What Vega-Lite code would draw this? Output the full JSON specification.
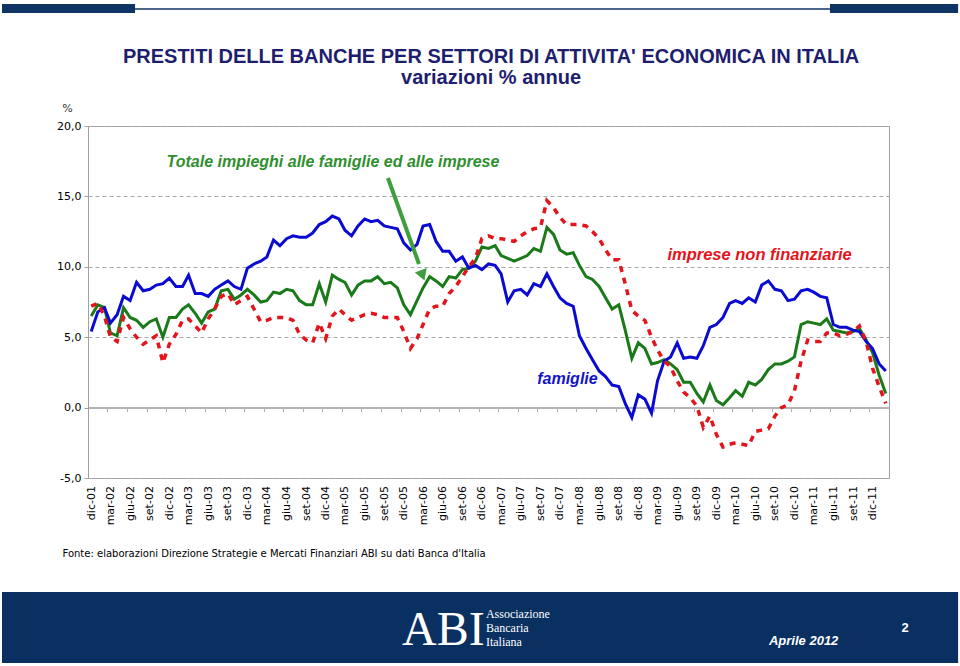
{
  "$schema": "https://vega.github.io/schema/vega-lite/v6.json",
  "width": 801,
  "height": 352,
  "autosize": {"type": "none"},
  "padding": {"left": 88, "top": 126, "right": 71, "bottom": 188},
  "background": "#ffffff",
  "config": {
    "view": {"stroke": "#a0a0a0", "strokeWidth": 1},
    "font": "DejaVu Sans"
  },
  "data": {
    "values": [
      {"mese": "2001-12-01", "totale": 6.5, "famiglie": 5.4, "imprese": 7.2},
      {"mese": "2002-01-01", "totale": 7.3, "famiglie": 6.8, "imprese": 7.4},
      {"mese": "2002-02-01", "totale": 7.1, "famiglie": 7.1, "imprese": 6.5},
      {"mese": "2002-03-01", "totale": 5.3, "famiglie": 6.0, "imprese": 5.0},
      {"mese": "2002-04-01", "totale": 5.1, "famiglie": 6.6, "imprese": 4.7},
      {"mese": "2002-05-01", "totale": 7.1, "famiglie": 7.9, "imprese": 6.4},
      {"mese": "2002-06-01", "totale": 6.4, "famiglie": 7.6, "imprese": 5.6},
      {"mese": "2002-07-01", "totale": 6.2, "famiglie": 8.9, "imprese": 5.0},
      {"mese": "2002-08-01", "totale": 5.7, "famiglie": 8.3, "imprese": 4.5},
      {"mese": "2002-09-01", "totale": 6.1, "famiglie": 8.4, "imprese": 4.8},
      {"mese": "2002-10-01", "totale": 6.3, "famiglie": 8.7, "imprese": 5.1},
      {"mese": "2002-11-01", "totale": 5.0, "famiglie": 8.8, "imprese": 3.2},
      {"mese": "2002-12-01", "totale": 6.4, "famiglie": 9.2, "imprese": 4.5},
      {"mese": "2003-01-01", "totale": 6.4, "famiglie": 8.6, "imprese": 5.2},
      {"mese": "2003-02-01", "totale": 7.0, "famiglie": 8.6, "imprese": 6.2},
      {"mese": "2003-03-01", "totale": 7.3, "famiglie": 9.4, "imprese": 6.3},
      {"mese": "2003-04-01", "totale": 6.7, "famiglie": 8.1, "imprese": 5.8},
      {"mese": "2003-05-01", "totale": 6.0, "famiglie": 8.1, "imprese": 5.3},
      {"mese": "2003-06-01", "totale": 6.8, "famiglie": 7.9, "imprese": 6.3},
      {"mese": "2003-07-01", "totale": 7.0, "famiglie": 8.4, "imprese": 7.0},
      {"mese": "2003-08-01", "totale": 8.3, "famiglie": 8.7, "imprese": 7.9},
      {"mese": "2003-09-01", "totale": 8.4, "famiglie": 9.0, "imprese": 8.1},
      {"mese": "2003-10-01", "totale": 7.7, "famiglie": 8.6, "imprese": 7.3},
      {"mese": "2003-11-01", "totale": 8.0, "famiglie": 8.4, "imprese": 7.6},
      {"mese": "2003-12-01", "totale": 8.4, "famiglie": 9.9, "imprese": 7.9},
      {"mese": "2004-01-01", "totale": 8.0, "famiglie": 10.2, "imprese": 7.0},
      {"mese": "2004-02-01", "totale": 7.5, "famiglie": 10.4, "imprese": 6.1},
      {"mese": "2004-03-01", "totale": 7.6, "famiglie": 10.7, "imprese": 6.2},
      {"mese": "2004-04-01", "totale": 8.2, "famiglie": 11.9, "imprese": 6.4},
      {"mese": "2004-05-01", "totale": 8.1, "famiglie": 11.5, "imprese": 6.4},
      {"mese": "2004-06-01", "totale": 8.4, "famiglie": 12.0, "imprese": 6.4},
      {"mese": "2004-07-01", "totale": 8.3, "famiglie": 12.2, "imprese": 6.2},
      {"mese": "2004-08-01", "totale": 7.6, "famiglie": 12.1, "imprese": 5.2},
      {"mese": "2004-09-01", "totale": 7.3, "famiglie": 12.1, "imprese": 4.8},
      {"mese": "2004-10-01", "totale": 7.3, "famiglie": 12.4, "imprese": 4.6},
      {"mese": "2004-11-01", "totale": 8.8, "famiglie": 13.0, "imprese": 6.0},
      {"mese": "2004-12-01", "totale": 7.5, "famiglie": 13.2, "imprese": 4.9},
      {"mese": "2005-01-01", "totale": 9.4, "famiglie": 13.6, "imprese": 6.5},
      {"mese": "2005-02-01", "totale": 9.1, "famiglie": 13.4, "imprese": 7.0},
      {"mese": "2005-03-01", "totale": 8.9, "famiglie": 12.6, "imprese": 6.6},
      {"mese": "2005-04-01", "totale": 8.0, "famiglie": 12.2, "imprese": 6.2},
      {"mese": "2005-05-01", "totale": 8.7, "famiglie": 12.9, "imprese": 6.4},
      {"mese": "2005-06-01", "totale": 9.0, "famiglie": 13.4, "imprese": 6.6},
      {"mese": "2005-07-01", "totale": 9.0, "famiglie": 13.2, "imprese": 6.7},
      {"mese": "2005-08-01", "totale": 9.3, "famiglie": 13.3, "imprese": 6.6},
      {"mese": "2005-09-01", "totale": 8.8, "famiglie": 12.9, "imprese": 6.4},
      {"mese": "2005-10-01", "totale": 8.9, "famiglie": 12.8, "imprese": 6.4},
      {"mese": "2005-11-01", "totale": 8.5, "famiglie": 12.7, "imprese": 6.4},
      {"mese": "2005-12-01", "totale": 7.3, "famiglie": 11.7, "imprese": 5.4},
      {"mese": "2006-01-01", "totale": 6.6, "famiglie": 11.2, "imprese": 4.2},
      {"mese": "2006-02-01", "totale": 7.6, "famiglie": 11.6, "imprese": 4.9},
      {"mese": "2006-03-01", "totale": 8.5, "famiglie": 12.9, "imprese": 5.9},
      {"mese": "2006-04-01", "totale": 9.3, "famiglie": 13.0, "imprese": 7.0},
      {"mese": "2006-05-01", "totale": 9.0, "famiglie": 11.8, "imprese": 7.2},
      {"mese": "2006-06-01", "totale": 8.6, "famiglie": 11.1, "imprese": 7.2},
      {"mese": "2006-07-01", "totale": 9.3, "famiglie": 11.1, "imprese": 8.1},
      {"mese": "2006-08-01", "totale": 9.2, "famiglie": 10.4, "imprese": 8.6},
      {"mese": "2006-09-01", "totale": 9.8, "famiglie": 10.7, "imprese": 9.3},
      {"mese": "2006-10-01", "totale": 9.9, "famiglie": 9.9, "imprese": 10.0},
      {"mese": "2006-11-01", "totale": 10.4, "famiglie": 10.1, "imprese": 10.6},
      {"mese": "2006-12-01", "totale": 11.4, "famiglie": 9.8, "imprese": 12.0},
      {"mese": "2007-01-01", "totale": 11.3, "famiglie": 10.2, "imprese": 12.2},
      {"mese": "2007-02-01", "totale": 11.5, "famiglie": 10.1, "imprese": 12.0},
      {"mese": "2007-03-01", "totale": 10.8, "famiglie": 9.5, "imprese": 12.0},
      {"mese": "2007-04-01", "totale": 10.6, "famiglie": 7.5, "imprese": 11.9},
      {"mese": "2007-05-01", "totale": 10.4, "famiglie": 8.3, "imprese": 11.8},
      {"mese": "2007-06-01", "totale": 10.6, "famiglie": 8.4, "imprese": 12.2},
      {"mese": "2007-07-01", "totale": 10.8, "famiglie": 8.0, "imprese": 12.5},
      {"mese": "2007-08-01", "totale": 11.3, "famiglie": 8.8, "imprese": 12.7},
      {"mese": "2007-09-01", "totale": 11.1, "famiglie": 8.6, "imprese": 12.8},
      {"mese": "2007-10-01", "totale": 12.8, "famiglie": 9.5, "imprese": 14.7},
      {"mese": "2007-11-01", "totale": 12.3, "famiglie": 8.6, "imprese": 14.2},
      {"mese": "2007-12-01", "totale": 11.2, "famiglie": 7.8, "imprese": 13.5},
      {"mese": "2008-01-01", "totale": 10.9, "famiglie": 7.4, "imprese": 13.0},
      {"mese": "2008-02-01", "totale": 11.0, "famiglie": 7.2, "imprese": 13.0},
      {"mese": "2008-03-01", "totale": 10.1, "famiglie": 5.1, "imprese": 13.0},
      {"mese": "2008-04-01", "totale": 9.3, "famiglie": 4.2, "imprese": 12.9},
      {"mese": "2008-05-01", "totale": 9.1, "famiglie": 3.4, "imprese": 12.5},
      {"mese": "2008-06-01", "totale": 8.6, "famiglie": 2.6, "imprese": 12.0},
      {"mese": "2008-07-01", "totale": 7.8, "famiglie": 2.2, "imprese": 11.2},
      {"mese": "2008-08-01", "totale": 7.0, "famiglie": 1.6, "imprese": 10.5},
      {"mese": "2008-09-01", "totale": 7.3, "famiglie": 1.5, "imprese": 10.5},
      {"mese": "2008-10-01", "totale": 5.5, "famiglie": 0.3, "imprese": 8.8},
      {"mese": "2008-11-01", "totale": 3.5, "famiglie": -0.7, "imprese": 6.9},
      {"mese": "2008-12-01", "totale": 4.6, "famiglie": 0.9, "imprese": 6.5},
      {"mese": "2009-01-01", "totale": 4.2, "famiglie": 0.6, "imprese": 6.2},
      {"mese": "2009-02-01", "totale": 3.1, "famiglie": -0.4, "imprese": 5.0},
      {"mese": "2009-03-01", "totale": 3.2, "famiglie": 1.9, "imprese": 4.1},
      {"mese": "2009-04-01", "totale": 3.4, "famiglie": 3.3, "imprese": 3.3},
      {"mese": "2009-05-01", "totale": 3.1, "famiglie": 3.6, "imprese": 2.9},
      {"mese": "2009-06-01", "totale": 2.7, "famiglie": 4.6, "imprese": 1.9},
      {"mese": "2009-07-01", "totale": 1.8, "famiglie": 3.5, "imprese": 1.1},
      {"mese": "2009-08-01", "totale": 1.8, "famiglie": 3.6, "imprese": 0.7},
      {"mese": "2009-09-01", "totale": 1.0, "famiglie": 3.5, "imprese": 0.1},
      {"mese": "2009-10-01", "totale": 0.4, "famiglie": 4.4, "imprese": -1.4},
      {"mese": "2009-11-01", "totale": 1.6, "famiglie": 5.7, "imprese": -0.6},
      {"mese": "2009-12-01", "totale": 0.5, "famiglie": 5.9, "imprese": -1.9},
      {"mese": "2010-01-01", "totale": 0.2, "famiglie": 6.4, "imprese": -2.8},
      {"mese": "2010-02-01", "totale": 0.7, "famiglie": 7.4, "imprese": -2.6},
      {"mese": "2010-03-01", "totale": 1.2, "famiglie": 7.6, "imprese": -2.5},
      {"mese": "2010-04-01", "totale": 0.8, "famiglie": 7.4, "imprese": -2.6},
      {"mese": "2010-05-01", "totale": 1.8, "famiglie": 7.8, "imprese": -2.7},
      {"mese": "2010-06-01", "totale": 1.6, "famiglie": 7.5, "imprese": -1.7},
      {"mese": "2010-07-01", "totale": 2.0, "famiglie": 8.7, "imprese": -1.6},
      {"mese": "2010-08-01", "totale": 2.7, "famiglie": 9.0, "imprese": -1.5},
      {"mese": "2010-09-01", "totale": 3.1, "famiglie": 8.4, "imprese": -0.6},
      {"mese": "2010-10-01", "totale": 3.1, "famiglie": 8.3, "imprese": 0.0},
      {"mese": "2010-11-01", "totale": 3.3, "famiglie": 7.6, "imprese": 0.2},
      {"mese": "2010-12-01", "totale": 3.6, "famiglie": 7.7, "imprese": 1.2},
      {"mese": "2011-01-01", "totale": 5.9, "famiglie": 8.3, "imprese": 3.3},
      {"mese": "2011-02-01", "totale": 6.1, "famiglie": 8.4, "imprese": 4.8},
      {"mese": "2011-03-01", "totale": 6.0, "famiglie": 8.2, "imprese": 4.7},
      {"mese": "2011-04-01", "totale": 5.9, "famiglie": 7.9, "imprese": 4.7},
      {"mese": "2011-05-01", "totale": 6.3, "famiglie": 7.8, "imprese": 5.3},
      {"mese": "2011-06-01", "totale": 5.5, "famiglie": 5.9, "imprese": 5.3},
      {"mese": "2011-07-01", "totale": 5.4, "famiglie": 5.7, "imprese": 5.1},
      {"mese": "2011-08-01", "totale": 5.3, "famiglie": 5.7, "imprese": 5.2},
      {"mese": "2011-09-01", "totale": 5.4, "famiglie": 5.5, "imprese": 5.4},
      {"mese": "2011-10-01", "totale": 5.6, "famiglie": 5.4, "imprese": 5.8},
      {"mese": "2011-11-01", "totale": 4.8, "famiglie": 4.7, "imprese": 4.7},
      {"mese": "2011-12-01", "totale": 3.9, "famiglie": 4.2, "imprese": 2.8},
      {"mese": "2012-01-01", "totale": 2.3, "famiglie": 3.1, "imprese": 1.5},
      {"mese": "2012-02-01", "totale": 1.0, "famiglie": 2.6, "imprese": 0.3}
    ]
  },
  "layer": [
    {
      "mark": {"type": "line", "color": "#1a7a1a", "strokeWidth": 3},
      "encoding": {
        "x": {
          "field": "mese",
          "type": "temporal",
          "scale": {
            "type": "utc",
            "domain": [
              {"year": 2001, "month": 11, "date": 16, "utc": true},
              {"year": 2012, "month": 2, "date": 16, "utc": true}
            ],
            "nice": false
          },
          "axis": {
            "orient": "bottom",
            "offset": -70.4,
            "tickCount": 60,
            "values": [
              {"year": 2001, "month": 12, "date": 1, "utc": true},
              {"year": 2002, "month": 3, "date": 1, "utc": true},
              {"year": 2002, "month": 6, "date": 1, "utc": true},
              {"year": 2002, "month": 9, "date": 1, "utc": true},
              {"year": 2002, "month": 12, "date": 1, "utc": true},
              {"year": 2003, "month": 3, "date": 1, "utc": true},
              {"year": 2003, "month": 6, "date": 1, "utc": true},
              {"year": 2003, "month": 9, "date": 1, "utc": true},
              {"year": 2003, "month": 12, "date": 1, "utc": true},
              {"year": 2004, "month": 3, "date": 1, "utc": true},
              {"year": 2004, "month": 6, "date": 1, "utc": true},
              {"year": 2004, "month": 9, "date": 1, "utc": true},
              {"year": 2004, "month": 12, "date": 1, "utc": true},
              {"year": 2005, "month": 3, "date": 1, "utc": true},
              {"year": 2005, "month": 6, "date": 1, "utc": true},
              {"year": 2005, "month": 9, "date": 1, "utc": true},
              {"year": 2005, "month": 12, "date": 1, "utc": true},
              {"year": 2006, "month": 3, "date": 1, "utc": true},
              {"year": 2006, "month": 6, "date": 1, "utc": true},
              {"year": 2006, "month": 9, "date": 1, "utc": true},
              {"year": 2006, "month": 12, "date": 1, "utc": true},
              {"year": 2007, "month": 3, "date": 1, "utc": true},
              {"year": 2007, "month": 6, "date": 1, "utc": true},
              {"year": 2007, "month": 9, "date": 1, "utc": true},
              {"year": 2007, "month": 12, "date": 1, "utc": true},
              {"year": 2008, "month": 3, "date": 1, "utc": true},
              {"year": 2008, "month": 6, "date": 1, "utc": true},
              {"year": 2008, "month": 9, "date": 1, "utc": true},
              {"year": 2008, "month": 12, "date": 1, "utc": true},
              {"year": 2009, "month": 3, "date": 1, "utc": true},
              {"year": 2009, "month": 6, "date": 1, "utc": true},
              {"year": 2009, "month": 9, "date": 1, "utc": true},
              {"year": 2009, "month": 12, "date": 1, "utc": true},
              {"year": 2010, "month": 3, "date": 1, "utc": true},
              {"year": 2010, "month": 6, "date": 1, "utc": true},
              {"year": 2010, "month": 9, "date": 1, "utc": true},
              {"year": 2010, "month": 12, "date": 1, "utc": true},
              {"year": 2011, "month": 3, "date": 1, "utc": true},
              {"year": 2011, "month": 6, "date": 1, "utc": true},
              {"year": 2011, "month": 9, "date": 1, "utc": true},
              {"year": 2011, "month": 12, "date": 1, "utc": true}
            ],
            "labelExpr": "['gen','feb','mar','apr','mag','giu','lug','ago','set','ott','nov','dic'][utcmonth(datum.value)] + '-' + utcFormat(datum.value, '%y')",
            "labelAngle": -90,
            "labelAlign": "right",
            "labelBaseline": "middle",
            "labelFont": "DejaVu Sans",
            "labelFontSize": 11,
            "labelColor": "#000000",
            "labelPadding": 74,
            "labelOverlap": false,
            "labelFlush": false,
            "labelBound": false,
            "tickOffset": -3.26,
            "labelOffset": 3.26,
            "ticks": true,
            "tickSize": 4,
            "tickColor": "#b0b0b0",
            "tickWidth": 1,
            "domain": true,
            "domainColor": "#b4b4b4",
            "domainWidth": 2,
            "grid": false,
            "title": "Fonte: elaborazioni Direzione Strategie e Mercati Finanziari ABI su dati Banca d'Italia",
            "titleX": -26,
            "titleY": 149,
            "titleAngle": 0,
            "titleAlign": "left",
            "titleBaseline": "alphabetic",
            "titleFont": "DejaVu Sans",
            "titleFontWeight": "normal",
            "titleFontSize": 10,
            "titleColor": "#000000"
          }
        },
        "y": {
          "field": "totale",
          "type": "quantitative",
          "scale": {"domain": [-5, 20], "nice": false, "zero": false},
          "axis": {
            "values": [-5, 0, 5, 10, 15, 20],
            "labelExpr": "replace(replace(format(datum.value, '.1f'), '.', ','), '−', '-')",
            "grid": true,
            "gridColor": "#a8a8a8",
            "gridDash": [4, 3],
            "gridWidth": 1,
            "domainColor": "#a0a0a0",
            "tickColor": "#a0a0a0",
            "tickSize": 4,
            "labelPadding": 3,
            "labelFont": "DejaVu Sans",
            "labelFontSize": 11,
            "labelColor": "#000000",
            "title": "%",
            "titleAngle": 0,
            "titleX": -21,
            "titleY": -18,
            "titleAlign": "center",
            "titleBaseline": "middle",
            "titleFont": "DejaVu Sans",
            "titleFontWeight": "normal",
            "titleFontSize": 11,
            "titleColor": "#333333"
          }
        }
      }
    },
    {
      "mark": {"type": "line", "color": "#0a0ad2", "strokeWidth": 3},
      "encoding": {
        "x": {"field": "mese", "type": "temporal"},
        "y": {"field": "famiglie", "type": "quantitative"}
      }
    },
    {
      "mark": {"type": "line", "color": "#e3141b", "strokeWidth": 3.5, "strokeDash": [6, 6]},
      "encoding": {
        "x": {"field": "mese", "type": "temporal"},
        "y": {"field": "imprese", "type": "quantitative"}
      }
    },
    {
      "data": {"values": [{}]},
      "mark": {"type": "text", "text": ["PRESTITI DELLE BANCHE PER SETTORI DI ATTIVITA' ECONOMICA IN ITALIA", "variazioni % annue"], "font": "Liberation Sans", "fontSize": 20, "fontWeight": "bold", "lineHeight": 21, "color": "#1e1e6e", "align": "center", "baseline": "alphabetic"},
      "encoding": {
        "x": {"datum": {"year": 2007, "month": 1, "date": 13, "utc": true}, "type": "temporal"},
        "y": {"datum": 24.47, "type": "quantitative"}
      }
    },
    {
      "data": {"values": [{}]},
      "mark": {"type": "text", "text": "Totale impieghi alle famiglie ed alle imprese", "font": "Liberation Sans", "fontSize": 16, "fontWeight": "bold", "fontStyle": "italic", "color": "#2f8f2f", "align": "center", "baseline": "middle"},
      "encoding": {
        "x": {"datum": {"year": 2005, "month": 1, "date": 4, "utc": true}, "type": "temporal"},
        "y": {"datum": 17.44, "type": "quantitative"}
      }
    },
    {
      "data": {"values": [{}]},
      "mark": {"type": "text", "text": "imprese non finanziarie", "font": "Liberation Sans", "fontSize": 16.5, "fontWeight": "bold", "fontStyle": "italic", "color": "#e3141b", "align": "center", "baseline": "middle"},
      "encoding": {
        "x": {"datum": {"year": 2010, "month": 6, "date": 21, "utc": true}, "type": "temporal"},
        "y": {"datum": 10.84, "type": "quantitative"}
      }
    },
    {
      "data": {"values": [{}]},
      "mark": {"type": "text", "text": "famiglie", "font": "Liberation Sans", "fontSize": 16, "fontWeight": "bold", "fontStyle": "italic", "color": "#1414c8", "align": "center", "baseline": "middle"},
      "encoding": {
        "x": {"datum": {"year": 2008, "month": 1, "date": 5, "utc": true}, "type": "temporal"},
        "y": {"datum": 2.03, "type": "quantitative"}
      }
    },
    {
      "data": {"values": [{}]},
      "mark": {"type": "rule", "color": "#3f9f3f", "strokeWidth": 4},
      "encoding": {
        "x": {"datum": {"year": 2005, "month": 9, "date": 18, "utc": true}, "type": "temporal"},
        "y": {"datum": 16.31, "type": "quantitative"},
        "x2": {"datum": {"year": 2006, "month": 2, "date": 10, "utc": true}},
        "y2": {"datum": 10.2}
      }
    },
    {
      "data": {"values": [{}]},
      "mark": {"type": "point", "shape": "triangle-down", "filled": true, "color": "#3f9f3f", "opacity": 1, "size": 160, "angle": 340},
      "encoding": {
        "x": {"datum": {"year": 2006, "month": 2, "date": 27, "utc": true}, "type": "temporal"},
        "y": {"datum": 9.39, "type": "quantitative"}
      }
    },
    {
      "data": {"values": [{}]},
      "mark": {"type": "rect", "color": "#0e3464"},
      "encoding": {
        "x": {"datum": {"year": 2000, "month": 10, "date": 10, "utc": true}, "type": "temporal"},
        "x2": {"datum": {"year": 2002, "month": 6, "date": 24, "utc": true}},
        "y": {"datum": 28.66, "type": "quantitative"},
        "y2": {"datum": 28.02}
      }
    },
    {
      "data": {"values": [{}]},
      "mark": {"type": "rect", "color": "#0e3464"},
      "encoding": {
        "x": {"datum": {"year": 2011, "month": 5, "date": 16, "utc": true}, "type": "temporal"},
        "x2": {"datum": {"year": 2013, "month": 1, "date": 4, "utc": true}},
        "y": {"datum": 28.66, "type": "quantitative"},
        "y2": {"datum": 28.02}
      }
    },
    {
      "data": {"values": [{}]},
      "mark": {"type": "rule", "color": "#0e3464", "strokeWidth": 1.5},
      "encoding": {
        "x": {"datum": {"year": 2002, "month": 6, "date": 24, "utc": true}, "type": "temporal"},
        "x2": {"datum": {"year": 2011, "month": 5, "date": 16, "utc": true}},
        "y": {"datum": 28.31, "type": "quantitative"}
      }
    },
    {
      "data": {"values": [{}]},
      "mark": {"type": "rect", "color": "#0a3062"},
      "encoding": {
        "x": {"datum": {"year": 2000, "month": 10, "date": 10, "utc": true}, "type": "temporal"},
        "x2": {"datum": {"year": 2013, "month": 1, "date": 4, "utc": true}},
        "y": {"datum": -13.1, "type": "quantitative"},
        "y2": {"datum": -18.14}
      }
    },
    {
      "data": {"values": [{}]},
      "mark": {"type": "text", "text": "ABI", "font": "Liberation Serif", "fontSize": 48, "color": "#ffffff", "align": "left", "baseline": "alphabetic"},
      "encoding": {
        "x": {"datum": {"year": 2005, "month": 11, "date": 23, "utc": true}, "type": "temporal"},
        "y": {"datum": -16.86, "type": "quantitative"}
      }
    },
    {
      "data": {"values": [{}]},
      "mark": {"type": "text", "text": ["Associazione", "Bancaria", "Italiana"], "font": "Liberation Serif", "fontSize": 12, "lineHeight": 14, "color": "#ffffff", "align": "left", "baseline": "top"},
      "encoding": {
        "x": {"datum": {"year": 2006, "month": 12, "date": 20, "utc": true}, "type": "temporal"},
        "y": {"datum": -14.32, "type": "quantitative"}
      }
    },
    {
      "data": {"values": [{}]},
      "mark": {"type": "text", "text": "Aprile 2012", "font": "Liberation Sans", "fontSize": 13, "fontWeight": "bold", "fontStyle": "italic", "color": "#ffffff", "align": "left", "baseline": "alphabetic"},
      "encoding": {
        "x": {"datum": {"year": 2010, "month": 8, "date": 4, "utc": true}, "type": "temporal"},
        "y": {"datum": -16.86, "type": "quantitative"}
      }
    },
    {
      "data": {"values": [{}]},
      "mark": {"type": "text", "text": "2", "font": "Liberation Sans", "fontSize": 13, "fontWeight": "bold", "color": "#ffffff", "align": "center", "baseline": "middle"},
      "encoding": {
        "x": {"datum": {"year": 2012, "month": 5, "date": 1, "utc": true}, "type": "temporal"},
        "y": {"datum": -15.65, "type": "quantitative"}
      }
    }
  ]
}
